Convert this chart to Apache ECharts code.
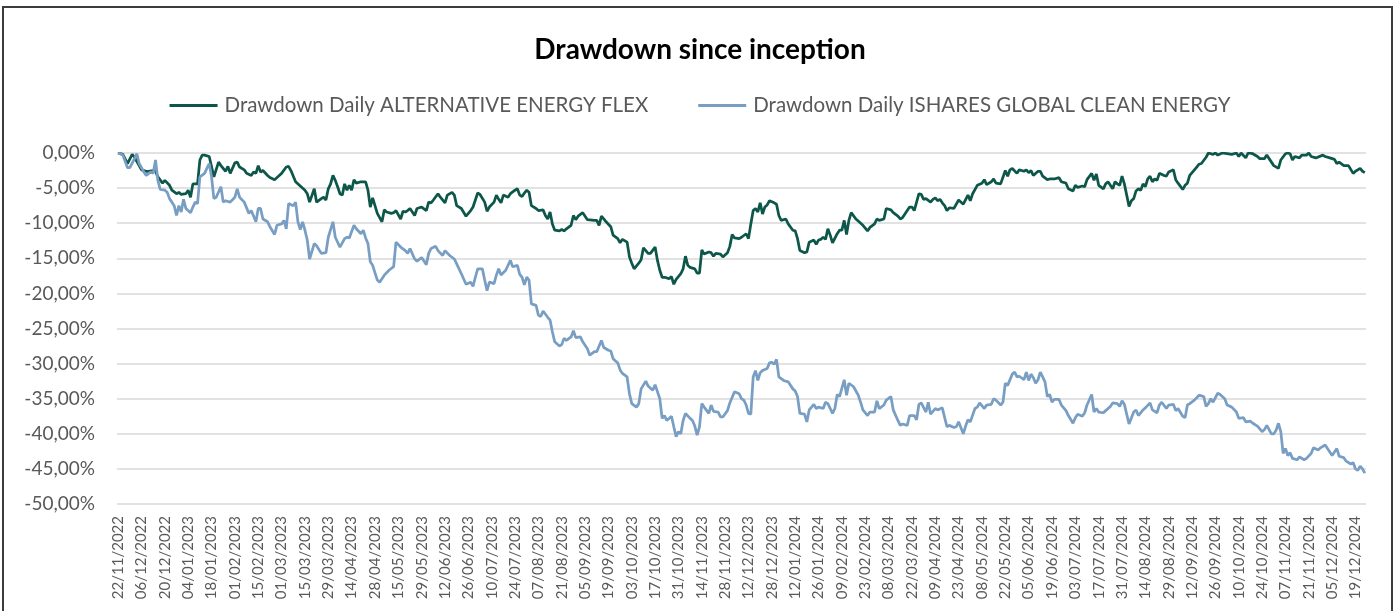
<!DOCTYPE html>
<html>
<head>
<meta charset="utf-8">
<script src="https://cdn.jsdelivr.net/npm/echarts@6/dist/echarts.min.js"></script>
<style>
html,body{margin:0;padding:0;background:#fff;}
#c{width:1400px;height:611px;}
</style>
</head>
<body>
<div id="c"></div>
<script>
// ---- Data ----
const chartTitle = 'Drawdown since inception';
const seriesNames = ['Drawdown Daily ALTERNATIVE ENERGY FLEX', 'Drawdown Daily ISHARES GLOBAL CLEAN ENERGY'];
const firstDay = '2022-11-22';
const lastDay = '2024-12-27';
const marketHolidays = ['2022-12-26','2023-04-07','2023-04-10','2023-05-01','2023-08-28','2023-12-25','2023-12-26',
  '2024-01-01','2024-03-29','2024-04-01','2024-05-01','2024-08-26','2024-12-25','2024-12-26'];
const yTicks = [0,-5,-10,-15,-20,-25,-30,-35,-40,-45,-50];

// [trading-day index, drawdown %]
const altEnergyFlex = [[0,0],[2,-0.2],[4,-1.5],[6,-0.2],[7,-0.6],[9,-1.8],[10,-2.4],[12,-2.6],[13,-2.6],[15,-2.5],[16,-2.6],[17,-3.4],[19,-4.3],[20,-3.9],[22,-4.6],[23,-5.3],[25,-5.8],[26,-5.6],[27,-5.9],[29,-5.8],[30,-5.3],[31,-6.3],[32,-4.4],[34,-4.4],[35,-1.0],[36,-0.3],[37,-0.3],[39,-0.5],[41,-3.4],[43,-1.3],[44,-1.8],[46,-2.6],[47,-1.9],[48,-2.9],[50,-1.4],[51,-1.3],[52,-2.0],[54,-2.4],[55,-2.9],[57,-3.2],[58,-2.7],[59,-2.9],[60,-1.8],[61,-2.7],[62,-2.5],[64,-3.2],[65,-3.5],[67,-3.8],[69,-3.2],[70,-2.9],[72,-2.0],[73,-1.9],[74,-2.5],[76,-4.1],[78,-4.7],[80,-5.3],[81,-5.8],[82,-7.0],[84,-5.1],[85,-7.0],[87,-6.5],[88,-6.3],[89,-6.7],[90,-5.1],[91,-4.4],[92,-3.2],[93,-3.9],[94,-4.8],[95,-5.8],[96,-6.0],[97,-4.4],[98,-5.3],[99,-4.6],[100,-5.3],[101,-3.8],[102,-4.3],[104,-4.1],[106,-4.1],[107,-5.3],[108,-7.7],[109,-6.4],[111,-8.6],[113,-9.8],[114,-8.1],[115,-8.4],[117,-8.6],[118,-8.5],[119,-8.2],[121,-9.4],[122,-8.3],[123,-8.4],[124,-8.2],[125,-7.9],[127,-8.9],[128,-7.9],[130,-7.7],[132,-8.2],[133,-7.0],[134,-7.1],[135,-6.7],[137,-5.8],[138,-6.3],[140,-7.1],[141,-6.0],[143,-5.6],[144,-6.0],[145,-7.5],[147,-7.9],[149,-9.0],[151,-8.2],[152,-7.7],[154,-5.7],[155,-5.9],[157,-7.0],[158,-8.3],[159,-7.7],[161,-7.0],[162,-6.0],[163,-6.6],[164,-7.1],[165,-6.0],[167,-6.3],[168,-5.8],[170,-5.3],[171,-5.1],[172,-6.0],[173,-6.2],[174,-5.7],[175,-5.3],[176,-5.6],[177,-7.5],[179,-7.9],[180,-8.2],[182,-8.1],[183,-8.9],[184,-9.4],[185,-8.4],[186,-10.1],[187,-11.0],[189,-11.1],[190,-10.9],[191,-11.1],[192,-10.8],[194,-10.3],[195,-8.9],[196,-9.5],[197,-9.0],[199,-8.5],[200,-9.0],[201,-9.5],[204,-9.6],[205,-9.6],[206,-10.3],[207,-9.0],[208,-9.4],[209,-9.8],[211,-10.5],[212,-11.7],[214,-12.2],[215,-12.8],[216,-12.3],[218,-12.7],[219,-14.8],[220,-15.7],[221,-16.5],[223,-15.7],[224,-15.2],[225,-13.5],[227,-14.3],[228,-14.3],[230,-13.4],[231,-15.3],[232,-16.7],[233,-17.7],[234,-17.7],[236,-17.9],[237,-17.6],[238,-18.7],[239,-18.0],[241,-17.2],[242,-16.5],[243,-14.7],[244,-16.0],[245,-16.3],[247,-16.5],[248,-17.1],[249,-17.1],[250,-13.8],[251,-14.4],[253,-14.1],[254,-14.2],[255,-14.7],[256,-14.3],[258,-14.4],[259,-14.8],[261,-14.2],[262,-13.3],[263,-11.6],[264,-12.1],[266,-12.2],[267,-12.0],[269,-11.5],[270,-12.2],[271,-10.1],[272,-8.2],[273,-7.9],[274,-8.4],[275,-7.1],[276,-8.7],[277,-7.7],[278,-7.4],[279,-6.8],[281,-7.1],[282,-7.3],[283,-8.9],[284,-9.6],[286,-9.4],[287,-10.1],[289,-11.0],[290,-11.1],[291,-12.2],[292,-13.9],[294,-14.2],[295,-14.1],[296,-12.7],[298,-12.4],[299,-13.0],[300,-12.4],[301,-12.3],[302,-12.0],[303,-12.3],[304,-10.8],[305,-11.7],[306,-12.8],[308,-11.5],[309,-11.0],[310,-11.0],[311,-9.6],[312,-11.6],[313,-9.6],[314,-8.5],[316,-9.4],[317,-9.7],[319,-10.3],[321,-11.1],[322,-10.6],[324,-10.1],[325,-9.4],[326,-9.6],[328,-9.4],[329,-7.9],[331,-8.1],[332,-8.5],[334,-9.0],[335,-9.4],[336,-9.2],[338,-8.2],[339,-7.7],[340,-7.7],[341,-8.2],[343,-5.8],[344,-5.9],[345,-6.6],[346,-6.5],[348,-7.0],[349,-6.6],[350,-6.4],[351,-6.8],[352,-6.6],[353,-7.1],[354,-7.5],[355,-8.2],[356,-7.8],[358,-7.9],[360,-6.7],[362,-7.3],[364,-6.0],[365,-6.8],[366,-5.8],[368,-4.6],[370,-4.3],[371,-3.8],[372,-4.5],[374,-4.1],[375,-3.7],[376,-4.3],[378,-4.4],[380,-2.5],[381,-3.3],[382,-2.4],[383,-2.2],[385,-2.9],[386,-2.4],[388,-2.6],[389,-2.4],[390,-2.8],[391,-2.5],[392,-3.2],[394,-2.6],[395,-2.6],[396,-3.3],[398,-3.8],[399,-3.7],[401,-3.7],[403,-3.5],[404,-4.1],[406,-4.3],[407,-5.1],[409,-5.4],[410,-4.6],[411,-4.9],[413,-4.7],[414,-4.8],[415,-3.8],[417,-2.9],[418,-3.9],[419,-3.0],[420,-4.6],[422,-5.1],[423,-4.4],[424,-4.1],[426,-5.1],[427,-4.1],[428,-4.4],[429,-4.6],[430,-3.3],[431,-4.4],[432,-6.0],[433,-7.6],[434,-6.8],[435,-6.5],[436,-5.4],[437,-5.1],[438,-5.3],[439,-4.4],[440,-4.8],[441,-3.7],[442,-3.3],[443,-4.1],[444,-3.7],[445,-3.9],[446,-2.9],[448,-3.2],[449,-3.3],[450,-2.7],[452,-2.4],[453,-3.8],[454,-4.3],[456,-5.2],[457,-4.6],[458,-4.3],[459,-3.2],[461,-2.4],[462,-2.0],[463,-1.6],[464,-1.5],[466,-0.6],[467,0],[469,-0.2],[470,0],[471,-0.3],[473,0],[475,-0.1],[477,-0.2],[479,0],[480,-0.5],[481,0],[483,-0.7],[484,0],[486,-0.1],[488,-0.5],[489,-0.8],[491,-0.8],[492,-0.3],[493,-0.8],[495,-1.8],[497,-2.2],[498,-1.0],[500,-0.1],[501,0],[502,-0.1],[503,-1.0],[504,-0.5],[506,-0.7],[507,-0.3],[509,-0.3],[510,0],[511,-0.5],[513,-0.7],[516,-0.3],[517,-0.5],[519,-0.7],[521,-0.9],[522,-1.5],[523,-1.3],[525,-1.8],[527,-1.8],[529,-2.9],[530,-2.6],[532,-2.2],[533,-2.6],[534,-2.8]];

const isharesCleanEnergy = [[0,0],[2,-0.3],[4,-2.1],[5,-2.1],[7,-0.8],[8,-0.1],[9,-1.5],[11,-2.7],[12,-3.2],[14,-2.7],[15,-2.9],[16,-1.0],[17,-3.9],[18,-5.2],[20,-5.3],[21,-5.6],[22,-6.5],[24,-7.5],[25,-8.9],[26,-7.5],[27,-8.4],[28,-6.6],[29,-7.9],[31,-8.5],[32,-7.7],[33,-7.0],[34,-7.2],[35,-3.4],[37,-2.9],[38,-2.2],[39,-1.5],[40,-3.4],[41,-6.5],[42,-6.3],[44,-4.8],[45,-7.0],[46,-6.8],[48,-7.0],[50,-6.3],[51,-5.1],[52,-6.3],[54,-7.0],[56,-8.6],[57,-8.2],[59,-9.8],[60,-7.9],[61,-7.9],[62,-9.4],[64,-9.8],[65,-10.5],[67,-11.6],[68,-10.3],[70,-10.1],[71,-9.6],[72,-10.8],[73,-7.2],[75,-7.5],[76,-7.0],[77,-9.8],[78,-10.9],[79,-9.8],[80,-11.0],[81,-12.4],[82,-15.1],[84,-12.9],[85,-13.2],[87,-14.3],[89,-14.2],[90,-12.0],[92,-9.8],[93,-12.0],[95,-13.4],[97,-12.2],[98,-12.0],[99,-12.1],[101,-10.3],[102,-10.8],[104,-11.5],[105,-11.0],[106,-12.1],[107,-12.9],[108,-15.5],[109,-16.0],[111,-18.1],[112,-18.4],[114,-17.4],[116,-16.7],[118,-16.2],[119,-12.7],[121,-13.4],[123,-13.9],[124,-14.3],[125,-13.6],[127,-15.1],[128,-15.4],[130,-14.9],[132,-15.9],[133,-14.3],[134,-13.6],[136,-13.3],[137,-13.9],[139,-14.6],[140,-13.9],[142,-14.6],[144,-15.1],[145,-15.8],[147,-17.2],[149,-18.7],[151,-18.4],[152,-19.0],[153,-17.7],[154,-16.5],[156,-16.5],[157,-18.1],[158,-19.6],[159,-18.4],[161,-18.6],[162,-17.4],[163,-16.5],[164,-17.4],[166,-16.7],[168,-15.3],[169,-16.2],[171,-16.0],[172,-17.3],[173,-17.7],[174,-18.8],[175,-17.7],[176,-18.1],[177,-21.5],[179,-21.7],[180,-23.1],[181,-23.3],[182,-22.5],[184,-23.4],[185,-23.8],[186,-25.5],[187,-26.9],[189,-27.5],[190,-27.3],[191,-26.4],[192,-26.7],[194,-26.2],[195,-25.3],[196,-26.3],[198,-26.2],[199,-26.9],[201,-27.9],[202,-28.8],[204,-28.3],[205,-28.3],[207,-26.7],[208,-27.7],[210,-28.1],[211,-28.2],[212,-29.3],[214,-29.9],[215,-30.9],[216,-31.4],[218,-31.9],[219,-34.3],[220,-35.7],[222,-36.2],[223,-35.7],[224,-33.6],[226,-32.5],[227,-33.2],[229,-33.8],[230,-33.0],[232,-35.0],[233,-37.8],[234,-37.4],[235,-38.1],[237,-37.5],[238,-39.0],[239,-40.4],[240,-39.7],[241,-40.0],[242,-38.1],[243,-37.1],[245,-37.8],[246,-38.1],[247,-38.9],[248,-40.2],[249,-39.0],[250,-35.7],[251,-36.2],[253,-37.1],[254,-35.9],[255,-36.8],[257,-36.9],[258,-37.6],[259,-37.6],[261,-36.7],[262,-35.6],[264,-34.0],[266,-34.3],[267,-35.0],[268,-35.2],[269,-35.9],[270,-37.1],[271,-37.2],[272,-31.9],[273,-31.0],[274,-32.4],[275,-31.3],[276,-31.0],[278,-30.7],[279,-29.9],[280,-29.8],[281,-30.1],[282,-29.4],[283,-31.9],[285,-32.4],[287,-32.6],[289,-33.6],[290,-33.9],[291,-34.7],[292,-37.1],[294,-37.2],[295,-38.3],[296,-36.6],[298,-35.8],[299,-36.4],[300,-36.2],[302,-36.4],[303,-35.5],[304,-35.7],[306,-37.1],[307,-36.4],[308,-34.4],[309,-34.7],[311,-32.3],[312,-34.5],[313,-32.8],[315,-33.3],[317,-34.5],[318,-35.5],[319,-36.6],[321,-37.4],[322,-36.9],[324,-36.9],[325,-35.3],[326,-36.4],[328,-35.9],[329,-35.2],[331,-34.7],[332,-36.6],[334,-38.1],[335,-38.8],[336,-38.6],[338,-38.8],[339,-37.4],[341,-37.4],[342,-38.0],[343,-35.8],[344,-35.6],[346,-36.9],[347,-35.5],[348,-37.2],[350,-36.4],[351,-36.6],[353,-36.3],[355,-39.0],[356,-38.8],[358,-39.1],[359,-39.0],[360,-38.3],[362,-40.0],[363,-38.9],[364,-38.0],[365,-38.3],[367,-36.4],[368,-36.2],[369,-35.6],[371,-36.4],[372,-35.9],[374,-35.8],[375,-35.0],[376,-35.2],[378,-35.9],[379,-35.5],[380,-32.8],[381,-33.1],[383,-31.5],[384,-31.2],[385,-31.9],[386,-31.8],[388,-32.3],[389,-31.2],[390,-32.4],[391,-31.5],[392,-32.0],[393,-32.8],[394,-32.3],[395,-31.2],[397,-32.6],[398,-34.7],[399,-34.4],[400,-35.5],[401,-35.1],[403,-35.1],[404,-35.9],[406,-36.7],[407,-37.4],[409,-38.5],[410,-37.7],[411,-37.2],[413,-37.5],[414,-37.0],[415,-35.9],[417,-34.4],[418,-36.9],[419,-36.4],[420,-36.9],[422,-37.0],[423,-36.7],[425,-36.1],[426,-35.6],[428,-35.7],[429,-36.1],[430,-35.3],[431,-35.8],[433,-38.6],[435,-36.9],[436,-36.6],[437,-37.4],[439,-36.6],[440,-36.3],[442,-35.6],[443,-36.6],[445,-37.0],[446,-35.9],[447,-35.5],[449,-36.4],[450,-35.9],[452,-35.8],[453,-36.7],[454,-36.4],[456,-37.5],[457,-37.7],[458,-35.9],[459,-35.7],[461,-35.2],[463,-34.5],[465,-34.7],[466,-36.1],[467,-35.7],[468,-35.0],[469,-35.5],[471,-34.2],[472,-34.4],[474,-35.0],[475,-35.9],[477,-36.2],[479,-36.9],[480,-37.8],[482,-37.7],[483,-38.3],[485,-38.2],[486,-38.5],[488,-38.9],[490,-39.7],[491,-39.4],[492,-38.8],[494,-40.0],[495,-40.0],[496,-39.5],[497,-38.5],[498,-39.7],[499,-42.8],[500,-42.1],[501,-43.1],[502,-42.7],[503,-43.5],[505,-43.7],[506,-43.3],[508,-43.7],[509,-43.5],[511,-42.8],[512,-42.0],[514,-42.3],[515,-42.0],[517,-41.6],[519,-42.6],[520,-43.1],[522,-42.1],[523,-43.2],[525,-43.4],[526,-43.9],[528,-44.3],[529,-44.1],[530,-45.0],[531,-45.2],[532,-44.6],[533,-45.0],[534,-45.6]];

// ---- Trading-day categories ----
function pad(n){return (n<10?'0':'')+n;}
function buildTradingDays(start, end, holidays){
  const out = [];
  const d = new Date(start + 'T12:00:00Z');
  const e = new Date(end + 'T12:00:00Z');
  const hol = new Set(holidays);
  while (d <= e) {
    const wd = d.getUTCDay();
    const iso = d.getUTCFullYear() + '-' + pad(d.getUTCMonth()+1) + '-' + pad(d.getUTCDate());
    if (wd !== 0 && wd !== 6 && !hol.has(iso)) {
      out.push(pad(d.getUTCDate()) + '/' + pad(d.getUTCMonth()+1) + '/' + d.getUTCFullYear());
    }
    d.setUTCDate(d.getUTCDate()+1);
  }
  return out;
}
const categories = buildTradingDays(firstDay, lastDay, marketHolidays);

const FONT = 'Lato, "Open Sans", sans-serif';
const chart = echarts.init(document.getElementById('c'), null, {renderer:'canvas'});
chart.setOption({
  animation: false,
  backgroundColor: '#ffffff',
  title: {
    text: chartTitle, left: 'center', top: 31,
    textStyle: {fontFamily: FONT, fontWeight: 'bold', fontSize: 28, color: '#000000'}
  },
  legend: {
    top: 90, left: 'center', itemWidth: 48, itemHeight: 3, itemGap: 50, icon: 'rect',
    textStyle: {fontFamily: FONT, fontSize: 20.5, color: '#595959', padding: [0,0,0,2]},
    data: seriesNames
  },
  grid: {left: 117, right: 34, top: 153, bottom: 107, containLabel: false},
  xAxis: {
    type: 'category', data: categories, boundaryGap: true,
    axisLine: {show: false}, axisTick: {show: false},
    axisLabel: {interval: 9, rotate: 90, margin: 12, fontFamily: FONT, fontSize: 15, color: '#595959'},
    splitLine: {show: false}
  },
  yAxis: {
    type: 'value', min: yTicks[yTicks.length-1], max: yTicks[0], interval: 5,
    axisLine: {show: false}, axisTick: {show: false},
    axisLabel: {margin: 22, fontFamily: FONT, fontSize: 19, color: '#595959',
      formatter: v => v.toFixed(2).replace('.', ',') + '%'},
    splitLine: {lineStyle: {color: '#d9d9d9', width: 1.5}}
  },
  series: [
    {name: seriesNames[0], type: 'line', data: altEnergyFlex, symbol: 'none', z: 2,
     lineStyle: {color: '#0d574a', width: 2.75}, itemStyle: {color: '#0d574a'}},
    {name: seriesNames[1], type: 'line', data: isharesCleanEnergy, symbol: 'none', z: 3,
     lineStyle: {color: '#789ec4', width: 2.75}, itemStyle: {color: '#789ec4'}}
  ],
  graphic: [{
    type: 'rect', silent: true, z: 100,
    shape: {x: 3, y: 7, width: 1389, height: 620},
    style: {fill: 'none', stroke: '#3c3c3c', lineWidth: 2}
  }]
});
</script>
</body>
</html>
